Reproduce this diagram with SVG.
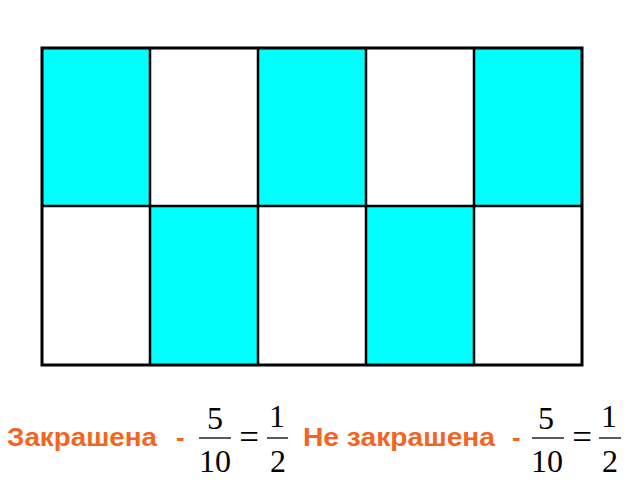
<svg xmlns="http://www.w3.org/2000/svg" width="640" height="480" viewBox="0 0 640 480">
<style>
.c{fill:#00FFFF}
.ln{stroke:#000;stroke-width:2.5;fill:none}
.lbl{font-family:"Liberation Sans",Arial,sans-serif;font-weight:bold;font-size:25.5px;fill:#F26522}
.m{font-family:"Liberation Serif","Times New Roman",serif;font-size:32px;fill:#000;text-anchor:middle}
.eq{font-family:"Liberation Serif","Times New Roman",serif;font-size:35px;fill:#000;text-anchor:middle}
.bar{stroke:#000;stroke-width:1.3}
</style>
<rect width="640" height="480" fill="#fff"/>
<g id="grid">
<rect class="c" x="42" y="48" width="108" height="158"/>
<rect class="c" x="258" y="48" width="108" height="158"/>
<rect class="c" x="474" y="48" width="108" height="158"/>
<rect class="c" x="150" y="206" width="108" height="159"/>
<rect class="c" x="366" y="206" width="108" height="159"/>
<path class="ln" d="M150 48V365M258 48V365M366 48V365M474 48V365M42 206H582"/>
<rect x="42" y="48" width="540" height="317" fill="none" stroke="#000" stroke-width="3"/>
</g>
<g id="label1">
<text class="lbl" x="7" y="445.5" textLength="150" lengthAdjust="spacingAndGlyphs">Закрашена</text>
<text class="lbl" x="176" y="445.5">-</text>
<text class="m" x="215" y="429">5</text>
<line class="bar" x1="199" y1="438" x2="231" y2="438"/>
<text class="m" x="215" y="472">10</text>
<text class="eq" x="249" y="449">=</text>
<text class="m" x="277" y="427">1</text>
<line class="bar" x1="267" y1="438" x2="288" y2="438"/>
<text class="m" x="278" y="472">2</text>
</g>
<g id="label2">
<text class="lbl" x="303" y="445.5" textLength="192" lengthAdjust="spacingAndGlyphs">Не закрашена</text>
<text class="lbl" x="512" y="445.5">-</text>
<text class="m" x="546" y="429">5</text>
<line class="bar" x1="532" y1="438" x2="564" y2="438"/>
<text class="m" x="547" y="472">10</text>
<text class="eq" x="582" y="449">=</text>
<text class="m" x="609" y="427">1</text>
<line class="bar" x1="599" y1="438" x2="621" y2="438"/>
<text class="m" x="610" y="472">2</text>
</g>
</svg>
